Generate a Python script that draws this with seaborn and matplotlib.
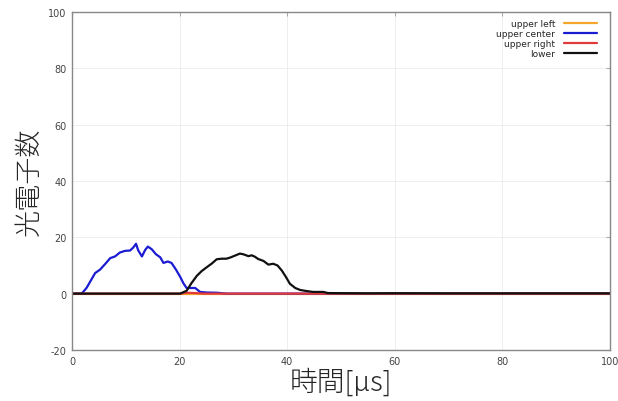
import numpy as np
import pandas as pd
import matplotlib
matplotlib.use("Agg")
import matplotlib.pyplot as plt
import seaborn as sns

# ---- data ----
t_upper_left = [0, 100]
v_upper_left = [0, 0]

t_upper_center = [0, 1.8, 2.7, 4.3, 5.2, 6.3, 7.1, 8.0, 8.9, 9.9, 10.8, 11.4, 11.9,
                  12.3, 13.0, 13.6, 14.1, 14.8, 15.6, 16.4, 17.0, 17.8, 18.5, 19.3,
                  20.1, 20.7, 21.3, 22.9, 23.8, 25.0, 27.0, 28.7, 100]
v_upper_center = [0, 0, 2.0, 7.3, 8.5, 10.8, 12.6, 13.2, 14.6, 15.2, 15.3, 16.4, 17.7,
                  15.4, 13.2, 15.5, 16.7, 15.8, 14.0, 12.9, 10.9, 11.4, 10.9, 8.6,
                  6.0, 3.7, 2.0, 2.0, 0.6, 0.4, 0.3, 0.0, 0]

t_upper_right = [0, 20.0, 21.5, 23.0, 24.5, 100]
v_upper_right = [0, 0, 0.3, 0.2, 0.0, 0]

t_lower = [0, 20.1, 21.3, 22.2, 23.2, 24.1, 25.0, 26.0, 26.9, 27.8, 28.7, 29.4, 30.3,
           31.2, 31.8, 32.8, 33.4, 34.0, 34.6, 35.6, 36.5, 37.4, 38.2, 39.0, 39.8,
           40.5, 41.5, 42.4, 43.3, 44.8, 46.7, 47.6, 55, 60, 70, 100]
v_lower = [0, 0, 1.0, 3.7, 6.3, 8.0, 9.3, 10.7, 12.2, 12.4, 12.4, 12.8, 13.5,
           14.2, 14.0, 13.3, 13.6, 13.1, 12.3, 11.6, 10.3, 10.6, 10.0, 8.2, 5.8,
           3.5, 2.0, 1.3, 1.0, 0.6, 0.6, 0.2, 0.1, 0.15, 0.1, 0.1]

series = {
    "upper left": (t_upper_left, v_upper_left),
    "upper center": (t_upper_center, v_upper_center),
    "upper right": (t_upper_right, v_upper_right),
    "lower": (t_lower, v_lower),
}
colors = {"upper left": "#f5a62a", "upper center": "#1b1bd2",
          "upper right": "#e03a3a", "lower": "#111111"}

rows = []
for name, (t, v) in series.items():
    for a, b in zip(t, v):
        rows.append({"time": a, "count": b, "ch": name})
df = pd.DataFrame(rows)

# ---- plot ----
sns.set_style("white")
plt.rcParams["font.family"] = ["DejaVu Sans"]
plt.rcParams["axes.unicode_minus"] = False

fig = plt.figure(figsize=(6.18, 4.02), dpi=100)
ax = fig.add_axes([0.1165, 0.127, 0.8705, 0.8407])

sns.lineplot(data=df, x="time", y="count", hue="ch", palette=colors,
             hue_order=list(series.keys()), linewidth=1.6, ax=ax,
             estimator=None, sort=False)

ax.set_xlim(0, 100)
ax.set_ylim(-20, 100)
ax.set_xticks(range(0, 101, 20))
ax.set_yticks(range(-20, 101, 20))
ax.grid(True, color="#ebebeb", linewidth=0.6)
for s in ax.spines.values():
    s.set_color("#888888")
    s.set_linewidth(1.0)
ax.tick_params(direction="in", length=3, color="#aaaaaa", labelsize=7,
               labelcolor="#444444", top=True, right=True, pad=4)

cjk = ["Noto Sans CJK JP", "DejaVu Sans"]
ax.set_xlabel("時間[µs]", fontsize=20, family=cjk, fontweight="light", labelpad=1)
ax.set_ylabel("光電子数", fontsize=19.5, family=cjk, fontweight="light", labelpad=4)

leg = ax.legend(loc="upper right", bbox_to_anchor=(0.982, 0.99), borderaxespad=0,
                frameon=False, fontsize=6.5, markerfirst=False,
                handlelength=3.6, labelspacing=0.1, handletextpad=1.0)
for txt in leg.get_texts():
    txt.set_ha("right")

fig.savefig("out.png", dpi=100)
